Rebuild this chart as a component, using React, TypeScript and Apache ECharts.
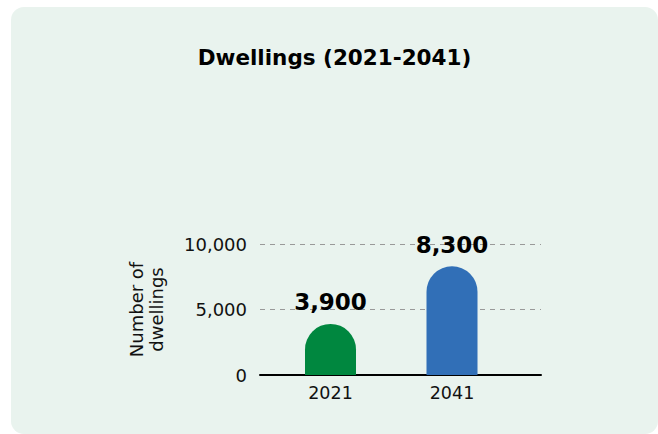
import React, { useEffect, useRef } from "react";
import * as echarts from "echarts";

const categories = ["2021", "2041"];
const dwellings = [3900, 8300];
const barColors = ["#00873f", "#316fb7"];
const yTicks = [0, 5000, 10000];

export default function App() {
  const ref = useRef<HTMLDivElement>(null);
  useEffect(() => {
    const chart = echarts.init(ref.current!, null, { renderer: "svg" });
    const font = "DejaVu Sans";
    chart.setOption({
      animation: false,
      textStyle: { fontFamily: font },
      graphic: [
        {
          type: "rect",
          z: -10,
          shape: { x: 11, y: 7, width: 647, height: 427, r: 13 },
          style: { fill: "#e9f3ee" },
        },
        {
          type: "text",
          x: 334.5,
          y: 57,
          style: {
            text: "Dwellings (2021-2041)",
            font: `bold 21.5px "${font}"`,
            fill: "#000",
            align: "center",
            verticalAlign: "middle",
          },
        },
      ],
      grid: [
        { left: 260, right: 117, top: 244, bottom: 59 },
        { left: 269.75, right: 145.25, top: 244, bottom: 59 },
      ],
      xAxis: [
        {
          type: "category",
          gridIndex: 0,
          data: categories,
          axisLine: { show: true, lineStyle: { color: "#000", width: 2 } },
          axisTick: { show: false },
          axisLabel: { show: false },
          splitLine: { show: false },
        },
        {
          type: "category",
          gridIndex: 1,
          data: categories,
          axisLine: { show: false },
          axisTick: { show: false },
          axisLabel: { color: "#111", fontSize: 17.5, margin: 9, fontFamily: font },
        },
      ],
      yAxis: [
        {
          type: "value",
          gridIndex: 0,
          min: yTicks[0],
          max: yTicks[yTicks.length - 1],
          interval: 5000,
          name: "Number of\ndwellings",
          nameLocation: "middle",
          nameGap: 94,
          nameTextStyle: { color: "#111", fontSize: 18, lineHeight: 20, fontFamily: font },
          axisLine: { show: false },
          axisTick: { show: false },
          axisLabel: {
            color: "#111",
            fontSize: 18,
            margin: 13,
            fontFamily: font,
            formatter: (v: number) => v.toLocaleString("en-US"),
          },
          splitLine: { show: true, lineStyle: { color: "#999", type: [5, 5], width: 1 } },
        },
        {
          type: "value",
          gridIndex: 1,
          min: yTicks[0],
          max: yTicks[yTicks.length - 1],
          interval: 5000,
          show: false,
          splitLine: { show: false },
        },
      ],
      series: [
        {
          type: "bar",
          xAxisIndex: 1,
          yAxisIndex: 1,
          barWidth: 51,
          z: 5,
          data: dwellings.map((v, i) => ({
            value: v,
            itemStyle: { color: barColors[i], borderRadius: [26, 26, 0, 0] },
          })),
          label: {
            show: true,
            position: "top",
            distance: 10,
            color: "#000",
            fontSize: 23,
            fontWeight: "bold",
            fontFamily: font,
            formatter: (p: any) => Number(p.value).toLocaleString("en-US"),
          },
        },
      ],
    });
    return () => chart.dispose();
  }, []);
  return (
    <div
      ref={ref}
      style={{ position: "fixed", left: 0, top: 0, width: 658, height: 434, background: "#fff" }}
    />
  );
}
